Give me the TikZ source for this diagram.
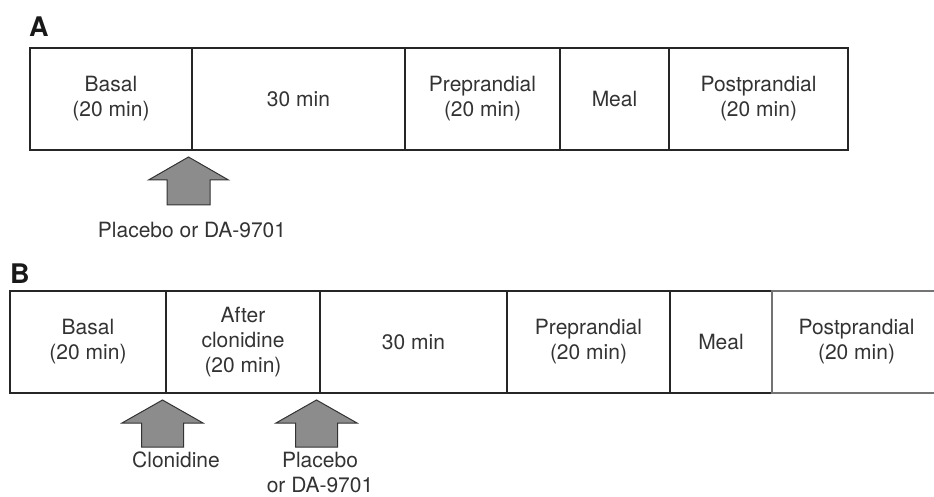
\documentclass[tikz,border=0pt]{standalone}
\usepackage{fontspec}
\setmainfont{TeX Gyre Heros}
\usetikzlibrary{positioning}

\newcommand{\celltext}{\fontsize{21}{25}\selectfont}
\newcommand{\paneltext}{\fontsize{27}{32}\selectfont\bfseries}

\begin{document}
\begin{tikzpicture}[x=1pt, y=-1pt,
    cell/.style={draw=black!85, line width=1.3pt, outer sep=0pt, inner sep=0pt,
        minimum height=102pt, align=center, text=black!80, font=\celltext},
    note/.style={inner sep=0pt, align=center, text=black!80, font=\celltext},
    panel/.style={inner sep=0pt, anchor=base west, text=black!90, font=\paneltext},
    bigarrow/.style={draw=black!80, line width=1pt, fill=black!45, line join=miter}
]
    \useasboundingbox (0,0) rectangle (934,497);

    % Panel A
    \node[panel] (panelA) at (29,37) {A};
    \node[cell, anchor=north west, minimum width=162pt] (basalA) at (30,48) {Basal\\(20 min)};
    \node[cell, minimum width=213pt, right=0pt of basalA] (waitA) {30 min};
    \node[cell, minimum width=155pt, right=0pt of waitA] (preA) {Preprandial\\(20 min)};
    \node[cell, minimum width=109pt, right=0pt of preA] (mealA) {Meal};
    \node[cell, minimum width=179pt, right=0pt of mealA] (postA) {Postprandial\\(20 min)};

    % Dosing arrow A
    \draw[bigarrow] ([xshift=-3.5pt, yshift=-7pt]basalA.south east) -- ++(40,23) -- ++(-18.5,0)
        -- ++(0,25) -- ++(-43,0) -- ++(0,-25) -- ++(-18.5,0) -- cycle;
    \node[note, below=72pt of basalA.south east] (drugA) {Placebo or DA-9701};

    % Panel B
    \node[panel] (panelB) at (10,283) {B};
    \node[cell, anchor=north west, minimum width=156pt] (basalB) at (10,291) {Basal\\(20 min)};
    \node[cell, minimum width=154pt, right=0pt of basalB] (afterB) {After\\clonidine\\(20 min)};
    \node[cell, minimum width=187pt, right=0pt of afterB] (waitB) {30 min};
    \node[cell, minimum width=163pt, right=0pt of waitB] (preB) {Preprandial\\(20 min)};
    \node[cell, minimum width=102pt, right=0pt of preB] (mealB) {Meal};
    \node[cell, draw=black!55, minimum width=169pt, right=0pt of mealB] (postB) {Postprandial\\(20 min)};

    % Dosing arrows B
    \draw[bigarrow] ([xshift=-3.5pt, yshift=-7pt]basalB.south east) -- ++(40.5,23) -- ++(-19.5,0)
        -- ++(0,24) -- ++(-42,0) -- ++(0,-24) -- ++(-19.5,0) -- cycle;
    \draw[bigarrow] ([xshift=-3.5pt, yshift=-7pt]afterB.south east) -- ++(40.5,23) -- ++(-19.5,0)
        -- ++(0,24) -- ++(-42,0) -- ++(0,-24) -- ++(-19.5,0) -- cycle;
    \node[note, below=59pt of basalB.south east, xshift=10pt] (cloB) {Clonidine};
    \node[note, below=59pt of afterB.south east] (drugB) {Placebo\\or DA-9701};
\end{tikzpicture}
\end{document}
